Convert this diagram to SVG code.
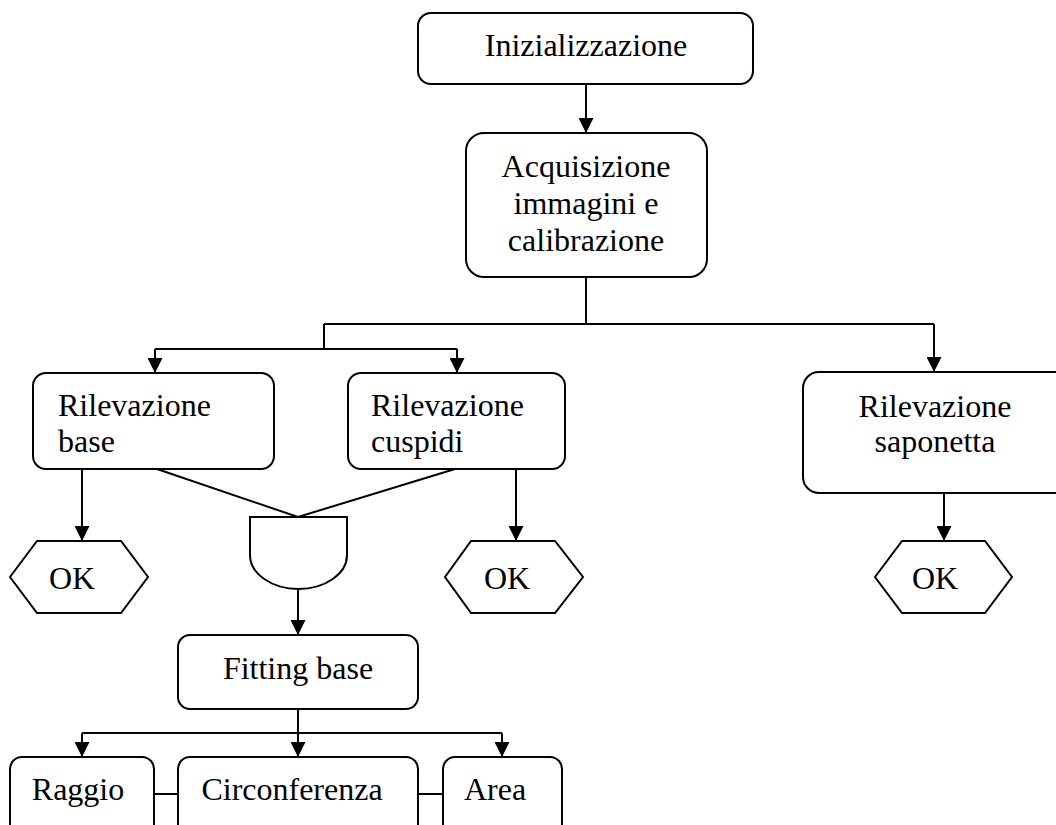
<svg xmlns="http://www.w3.org/2000/svg" width="1056" height="825" viewBox="0 0 1056 825">
<style>
.box{fill:#fff;stroke:#000;stroke-width:2}
.ln{fill:none;stroke:#000;stroke-width:2}
.t{font-family:"Liberation Serif","Times New Roman",serif;font-size:32px;fill:#000}
.c{text-anchor:middle}
</style>
<defs>
<marker id="ah" viewBox="0 0 15 15" refX="15" refY="7.5" markerWidth="15" markerHeight="15" markerUnits="userSpaceOnUse" orient="auto">
<path d="M0,0 L15,7.5 L0,15 Z" fill="#000"/>
</marker>
</defs>
<rect width="1056" height="825" fill="#fff"/>
<g id="connectors">
<path class="ln" d="M586,84 V133" marker-end="url(#ah)"/>
<path class="ln" d="M586,277 V324 M324,324 H934"/>
<path class="ln" d="M934,324 V372" marker-end="url(#ah)"/>
<path class="ln" d="M324,324 V349 M155,349 H457"/>
<path class="ln" d="M155,349 V373" marker-end="url(#ah)"/>
<path class="ln" d="M457,349 V373" marker-end="url(#ah)"/>
<path class="ln" d="M82,469 V541" marker-end="url(#ah)"/>
<path class="ln" d="M516,469 V541" marker-end="url(#ah)"/>
<path class="ln" d="M944,493 V541" marker-end="url(#ah)"/>
<path class="ln" d="M157,469 L298,517 L455,469"/>
<path class="ln" d="M298,589 V635" marker-end="url(#ah)"/>
<path class="ln" d="M298,709 V757" marker-end="url(#ah)"/>
<path class="ln" d="M82,733 H502"/>
<path class="ln" d="M82,733 V757" marker-end="url(#ah)"/>
<path class="ln" d="M502,733 V757" marker-end="url(#ah)"/>
<path class="ln" d="M154,794 H178 M418,794 H443"/>
</g>
<g id="inizializzazione">
<rect class="box" x="418" y="13" width="335" height="71" rx="13"/>
<text class="t c" x="586" y="56">Inizializzazione</text>
</g>
<g id="acquisizione">
<rect class="box" x="466" y="133" width="241" height="144" rx="18"/>
<text class="t c" x="586" y="177">Acquisizione</text>
<text class="t c" x="586" y="214">immagini e</text>
<text class="t c" x="586" y="251">calibrazione</text>
</g>
<g id="ril-base">
<rect class="box" x="33" y="373" width="241" height="96" rx="13"/>
<text class="t" x="58" y="416">Rilevazione</text>
<text class="t" x="58" y="452">base</text>
</g>
<g id="ril-cuspidi">
<rect class="box" x="348" y="373" width="217" height="96" rx="13"/>
<text class="t" x="371" y="416">Rilevazione</text>
<text class="t" x="371" y="452">cuspidi</text>
</g>
<g id="ril-saponetta">
<rect class="box" x="803" y="372" width="270" height="121" rx="16"/>
<text class="t c" x="935" y="417">Rilevazione</text>
<text class="t c" x="935" y="452">saponetta</text>
</g>
<g id="and-gate">
<path class="box" d="M250,517 H347 V555 A48.5,34 0 0 1 250,555 Z"/>
</g>
<g id="ok1">
<polygon class="box" points="10,577 37,541 121,541 148,577 121,613 37,613"/>
<text class="t c" x="72" y="589">OK</text>
</g>
<g id="ok2">
<polygon class="box" points="445,577 471,541 555,541 583,577 555,613 471,613"/>
<text class="t c" x="507" y="589">OK</text>
</g>
<g id="ok3">
<polygon class="box" points="875,577 902,541 985,541 1012,577 985,613 902,613"/>
<text class="t c" x="935" y="589">OK</text>
</g>
<g id="fitting">
<rect class="box" x="178" y="635" width="240" height="74" rx="12"/>
<text class="t c" x="298" y="679">Fitting base</text>
</g>
<g id="raggio">
<rect class="box" x="10" y="757" width="144" height="90" rx="12"/>
<text class="t c" x="78" y="800">Raggio</text>
</g>
<g id="circonferenza">
<rect class="box" x="178" y="757" width="240" height="90" rx="12"/>
<text class="t c" x="292" y="800">Circonferenza</text>
</g>
<g id="area">
<rect class="box" x="443" y="757" width="119" height="90" rx="12"/>
<text class="t c" x="495" y="800">Area</text>
</g>
</svg>
